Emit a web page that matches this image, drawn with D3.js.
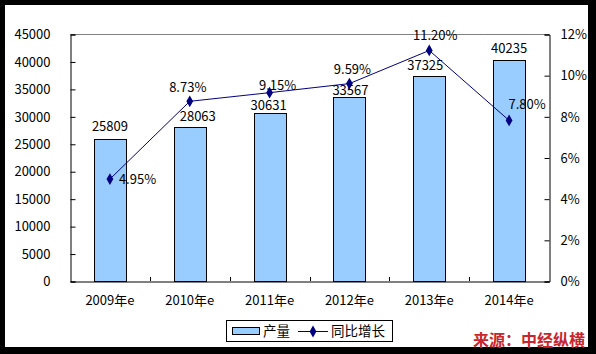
<!DOCTYPE html>
<html>
<head>
<meta charset="utf-8">
<script src="https://cdn.jsdelivr.net/npm/d3@7"></script>
<style>
  body{margin:0;background:#000;}
  text{font-family:"Noto Sans CJK SC","DejaVu Sans",sans-serif;fill:#000;}
</style>
</head>
<body>
<div id="container"></div>
<script>
// data
let years = ['2009年e','2010年e','2011年e','2012年e','2013年e','2014年e'];
let output = [25809,28063,30631,33567,37325,40235];
let growth = [4.95,8.73,9.15,9.59,11.20,7.80];
let leftTicks = [0,5000,10000,15000,20000,25000,30000,35000,40000,45000];
let rightTicks = [0,2,4,6,8,10,12];

// label nudges (style only)
let barLabelShift = [[0,-8],[8,-6],[-1,-3],[1,-2],[-4,-6],[0,-7]];
let lineLabelShift = [[9,5,'start'],[-2,-9,'middle'],[8,-3,'middle'],[3,-10,'middle'],[6,-10,'middle'],[18,-11,'middle']];

const W = 596, H = 354;
let px0 = 70, px1 = 549, py0 = 34, py1 = 281;

let svg = d3.select('#container').append('svg')
  .attr('width',W).attr('height',H);

svg.append('rect').attr('x',5).attr('y',5).attr('width',583).attr('height',342).attr('fill','#fff');

let x = d3.scaleBand().domain(years).range([px0,px1]);
let yL = d3.scaleLinear().domain([0,45000]).range([py1,py0]);
let yR = d3.scaleLinear().domain([0,12]).range([py1,py0]);

// top border of plot area
svg.append('line').attr('x1',px0).attr('x2',px1).attr('y1',py0+0.5).attr('y2',py0+0.5)
  .attr('stroke','#808080');

// bars
let bw = x.bandwidth()*0.4;
svg.selectAll('.bar').data(output).enter()
  .append('rect')
  .attr('class','bar')
  .attr('x',function(d,i){return Math.round(x(years[i])+x.bandwidth()/2-bw/2)+0.5;})
  .attr('y',function(d){return Math.round(yL(d))+0.5;})
  .attr('width',Math.round(bw))
  .attr('height',function(d){return Math.round(py1-yL(d));})
  .attr('fill','#99ccff')
  .attr('stroke','#000');

// axes
let leftAxis = d3.axisLeft(yL).tickValues(leftTicks).tickSize(-5).tickPadding(20).tickFormat(d3.format('d'));
let gl = svg.append('g').attr('transform','translate('+(px0+0.5)+',0.5)').call(leftAxis);

let rightAxis = d3.axisRight(yR).tickValues(rightTicks).tickSize(-5).tickPadding(11).tickFormat(function(d){return d+'%';});
let gr = svg.append('g').attr('transform','translate('+(px1+0.5)+',0.5)').call(rightAxis);

let bottomAxis = d3.axisBottom(x).tickSize(0).tickPadding(14);
let gb = svg.append('g').attr('transform','translate(0,'+(py1+0.5)+')').call(bottomAxis);

[gl,gr,gb].forEach(function(g){
  g.select('.domain').attr('stroke','#000');
  g.selectAll('.tick line').attr('stroke','#000');
  g.selectAll('text').style('font-size','13px').attr('fill','#000');
});

// category boundary ticks
let bounds = years.slice(1).map(function(d){return x(d);});
svg.selectAll('.ctick').data(bounds).enter()
  .append('line')
  .attr('x1',function(d){return Math.round(d)+0.5;})
  .attr('x2',function(d){return Math.round(d)+0.5;})
  .attr('y1',py1-4).attr('y2',py1)
  .attr('stroke','#000');

// bar value labels
svg.selectAll('.vlabel').data(output).enter()
  .append('text')
  .attr('x',function(d,i){return x(years[i])+x.bandwidth()/2+barLabelShift[i][0];})
  .attr('y',function(d,i){return yL(d)+barLabelShift[i][1];})
  .attr('text-anchor','middle')
  .style('font-size','13px')
  .text(function(d){return d;});

// growth line
let cx = function(d,i){return x(years[i])+x.bandwidth()/2;};
let line = d3.line().x(cx).y(function(d){return yR(d);});
svg.append('path').datum(growth)
  .attr('d',line)
  .attr('fill','none')
  .attr('stroke','#000080')
  .attr('stroke-width',1);

let diamond = d3.symbol().type(d3.symbolDiamond).size(40);
svg.selectAll('.pt').data(growth).enter()
  .append('path')
  .attr('d',diamond)
  .attr('transform',function(d,i){return 'translate('+cx(d,i)+','+yR(d)+')';})
  .attr('fill','#000080');

svg.selectAll('.plabel').data(growth).enter()
  .append('text')
  .attr('x',function(d,i){return cx(d,i)+lineLabelShift[i][0];})
  .attr('y',function(d,i){return yR(d)+lineLabelShift[i][1];})
  .attr('text-anchor',function(d,i){return lineLabelShift[i][2];})
  .style('font-size','13px')
  .text(function(d){return d.toFixed(2)+'%';});

// legend
let lg = svg.append('g');
lg.append('rect').attr('x',226.5).attr('y',320.5).attr('width',166).attr('height',21)
  .attr('fill','#fff').attr('stroke','#000');
lg.append('rect').attr('x',232.5).attr('y',327.5).attr('width',27).attr('height',7)
  .attr('fill','#99ccff').attr('stroke','#000');
lg.append('text').attr('x',263).attr('y',336).style('font-size','13.5px').text('产量');
lg.append('line').attr('x1',298).attr('x2',328).attr('y1',331.5).attr('y2',331.5)
  .attr('stroke','#000080');
lg.append('path').attr('d',diamond).attr('transform','translate(313,331.5)').attr('fill','#000080');
lg.append('text').attr('x',331).attr('y',336).style('font-size','13.5px').text('同比增长');

// source
svg.append('text').attr('x',473).attr('y',346)
  .style('font-size','16px').style('font-weight','bold')
  .style('fill','#c8262c')
  .text('来源：中经纵横');
</script>
</body>
</html>
